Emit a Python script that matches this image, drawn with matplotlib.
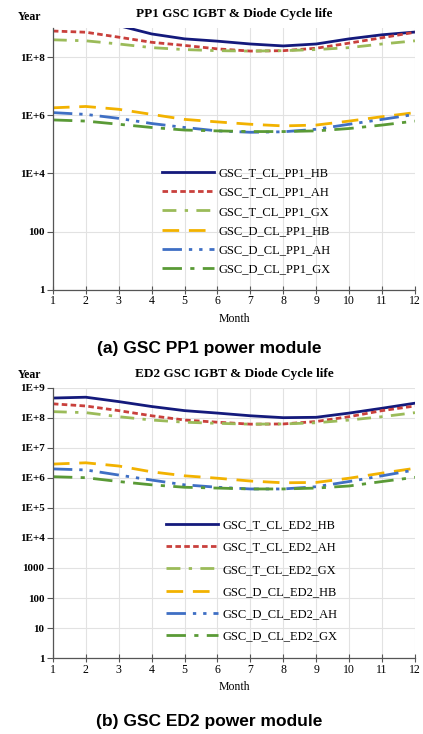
import matplotlib
matplotlib.use("Agg")
import matplotlib.pyplot as plt
from matplotlib.ticker import FixedLocator, FixedFormatter

months = [1, 2, 3, 4, 5, 6, 7, 8, 9, 10, 11, 12]

# PP1 module cycle life (cycles)
pp1_t_hb = [1.4e9, 1.5e9, 1.2e9, 6.2e8, 4.2e8, 3.5e8, 2.8e8, 2.4e8, 2.8e8, 4.2e8, 5.8e8, 7.2e8]
pp1_t_ah = [7.8e8, 7.1e8, 4.8e8, 3.2e8, 2.5e8, 1.9e8, 1.6e8, 1.65e8, 2.0e8, 3.0e8, 4.6e8, 7.1e8]
pp1_t_gx = [3.9e8, 3.6e8, 2.8e8, 2.1e8, 1.8e8, 1.65e8, 1.6e8, 1.65e8, 1.8e8, 2.1e8, 2.8e8, 3.6e8]
pp1_d_hb = [1.8e6, 2.0e6, 1.6e6, 1.07e6, 7.2e5, 5.9e5, 4.9e5, 4.3e5, 4.6e5, 6.3e5, 8.9e5, 1.23e6]
pp1_d_ah = [1.23e6, 1.07e6, 7.8e5, 5.2e5, 3.8e5, 2.9e5, 2.6e5, 2.7e5, 3.3e5, 4.9e5, 7.2e5, 1.07e6]
pp1_d_gx = [6.9e5, 6.3e5, 4.9e5, 3.8e5, 3.1e5, 2.9e5, 2.75e5, 2.75e5, 2.9e5, 3.5e5, 4.6e5, 6.3e5]

# ED2 module cycle life (cycles)
ed2_t_hb = [4.6e8, 4.9e8, 3.5e8, 2.4e8, 1.75e8, 1.45e8, 1.18e8, 1.02e8, 1.05e8, 1.45e8, 2.1e8, 3.1e8]
ed2_t_ah = [2.95e8, 2.5e8, 1.75e8, 1.18e8, 8.5e7, 7.2e7, 6.2e7, 6.3e7, 7.6e7, 1.1e8, 1.75e8, 2.5e8]
ed2_t_gx = [1.62e8, 1.5e8, 1.1e8, 8.5e7, 7.2e7, 6.6e7, 6.2e7, 6.3e7, 6.9e7, 8.5e7, 1.1e8, 1.5e8]
ed2_d_hb = [2.9e6, 3.2e6, 2.5e6, 1.6e6, 1.18e6, 9.8e5, 7.9e5, 6.9e5, 7.1e5, 9.8e5, 1.45e6, 2.1e6]
ed2_d_ah = [2.0e6, 1.85e6, 1.25e6, 8.5e5, 5.9e5, 4.9e5, 4.3e5, 4.3e5, 5.1e5, 7.6e5, 1.18e6, 1.85e6]
ed2_d_gx = [1.1e6, 1.02e6, 7.6e5, 5.9e5, 4.9e5, 4.6e5, 4.3e5, 4.3e5, 4.6e5, 5.4e5, 7.6e5, 1.05e6]

pp1_series = [pp1_t_hb, pp1_t_ah, pp1_t_gx, pp1_d_hb, pp1_d_ah, pp1_d_gx]
ed2_series = [ed2_t_hb, ed2_t_ah, ed2_t_gx, ed2_d_hb, ed2_d_ah, ed2_d_gx]
pp1_labels = ["GSC_T_CL_PP1_HB", "GSC_T_CL_PP1_AH", "GSC_T_CL_PP1_GX",
              "GSC_D_CL_PP1_HB", "GSC_D_CL_PP1_AH", "GSC_D_CL_PP1_GX"]
ed2_labels = ["GSC_T_CL_ED2_HB", "GSC_T_CL_ED2_AH", "GSC_T_CL_ED2_GX",
              "GSC_D_CL_ED2_HB", "GSC_D_CL_ED2_AH", "GSC_D_CL_ED2_GX"]

colors = ["#141a7c", "#c9403c", "#9bbb59", "#f2b200", "#3f6fc4", "#5a9a36"]
styles = ["-", (0, (2, 1.2)), (0, (5, 3, 1.2, 3)), (0, (6, 3.5)),
          (0, (7, 2.5, 1.2, 2.5, 1.2, 2.5)), (0, (7, 3, 1.5, 3))]

serif = "Liberation Serif"
sans = "Liberation Sans"


def draw_panel(ax, series, labels, title, yticks, yticklabels, legend_pos, spacing):
    for vals, lab, c, ls in zip(series, labels, colors, styles):
        ax.plot(months, vals, color=c, linestyle=ls, linewidth=2.0, label=lab)
    ax.set_yscale("log")
    ax.set_xlim(1, 12)
    ax.set_ylim(1, 1e9)
    ax.set_xticks(months)
    ax.set_xticklabels([str(m) for m in months], fontfamily=serif, fontsize=8.5)
    ax.yaxis.set_major_locator(FixedLocator(yticks))
    ax.yaxis.set_major_formatter(FixedFormatter(yticklabels))
    ax.yaxis.set_minor_locator(FixedLocator([]))
    for t in ax.get_yticklabels():
        t.set_fontfamily(serif)
        t.set_fontweight("bold")
        t.set_fontsize(8)
    ax.tick_params(axis="y", length=4, width=0.8, color="#555555", pad=2)
    ax.tick_params(axis="x", length=6, width=0.8, color="#555555", direction="inout", pad=1)
    ax.grid(True, color="#e2e2e2", linewidth=0.8)
    ax.set_axisbelow(True)
    for s in ["top", "right"]:
        ax.spines[s].set_visible(False)
    for s in ["left", "bottom"]:
        ax.spines[s].set_color("#555555")
        ax.spines[s].set_linewidth(0.9)
    ax.set_xlabel("Month", fontfamily=serif, fontsize=8.5, labelpad=4)
    ax.set_title(title, fontfamily=serif, fontweight="bold", fontsize=9.5, pad=8)
    ax.legend(loc="upper left", bbox_to_anchor=legend_pos, frameon=False,
              prop={"family": serif, "size": 9}, handlelength=4.2,
              handletextpad=0.35, labelspacing=spacing)


fig = plt.figure(figsize=(4.23, 7.34), dpi=100)

ax1 = fig.add_axes([0.125, 0.605, 0.856, 0.357])
draw_panel(ax1, pp1_series, pp1_labels, "PP1 GSC IGBT & Diode Cycle life",
           [1, 1e2, 1e4, 1e6, 1e8], ["1", "100", "1E+4", "1E+6", "1E+8"],
           (0.27, 0.51), 0.57)
fig.text(0.07, 0.977, "Year", fontfamily=serif, fontweight="bold", fontsize=8.5,
         ha="center", va="center")
fig.text(0.495, 0.525, "(a) GSC PP1 power module", fontfamily=sans,
         fontweight="bold", fontsize=12.5, ha="center", va="center")

ax2 = fig.add_axes([0.125, 0.1035, 0.856, 0.368])
dec = [10.0 ** k for k in range(10)]
draw_panel(ax2, ed2_series, ed2_labels, "ED2 GSC IGBT & Diode Cycle life",
           dec, ["1", "10", "100", "1000", "1E+4", "1E+5", "1E+6", "1E+7", "1E+8", "1E+9"],
           (0.28, 0.555), 0.82)
fig.text(0.07, 0.4895, "Year", fontfamily=serif, fontweight="bold", fontsize=8.5,
         ha="center", va="center")
fig.text(0.495, 0.017, "(b) GSC ED2 power module", fontfamily=sans,
         fontweight="bold", fontsize=12.5, ha="center", va="center")

fig.savefig("out.png", dpi=100, facecolor="white")
